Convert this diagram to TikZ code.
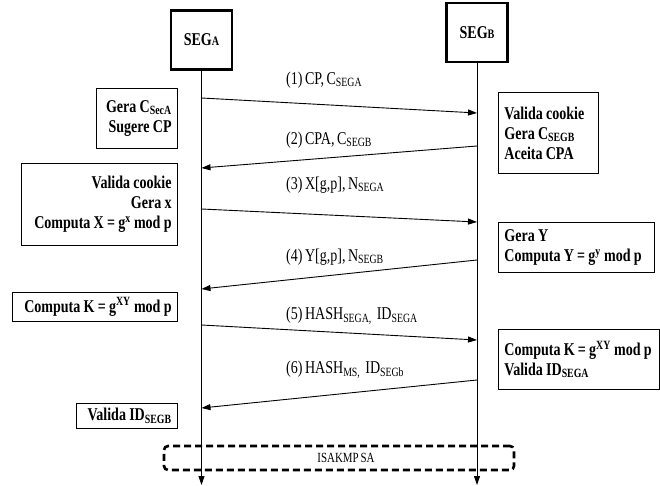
\documentclass[tikz,border=0pt]{standalone}
\usepackage{fontspec}
\setmainfont{Liberation Serif}[FakeStretch=0.78,WordSpace=0.7,
  BoldFeatures={FakeStretch=0.78,WordSpace=0.6}]
\usetikzlibrary{arrows.meta}

\begin{document}
\begin{tikzpicture}[x=1pt,y=-1pt,>={Triangle[length=9pt,width=6pt]},
  seg/.style={draw,line width=2.2pt,minimum width=61pt,minimum height=59pt,
    font=\fontsize{18}{20}\selectfont\bfseries},
  acao/.style={draw,line width=0.8pt,inner xsep=6pt,inner ysep=3pt,
    font=\fontsize{18}{20}\selectfont\bfseries,
    execute at begin node={\spaceskip=0.18em\relax}},
  msg/.style={anchor=west,inner sep=0pt,font=\fontsize{18}{20}\selectfont},
  seta/.style={->,line width=0.9pt}]
\useasboundingbox (0,0) rectangle (660,486);
\node[seg] (segA) at (201.5,40) {SEG{\fontsize{13}{13}\selectfont A}};
\node[seg] (segB) at (477,32.5) {SEG{\fontsize{13}{13}\selectfont B}};
%
\coordinate (fimA) at (201.5,485);
\coordinate (fimB) at (477,485);
\foreach \n/\ya/\yb in {1/98/113,2/168/146,3/209/222,4/289/260,5/325/340,6/408/380}
{
  \coordinate (a\n) at (201.5,\ya);
  \coordinate (b\n) at (477,\yb);
}
%
\node[acao,anchor=north east,text width=69pt,align=right,minimum height=60pt] (geraA) at (178,88)
  {Gera C\textsubscript{SecA}\\Sugere CP};
\node[acao,anchor=north east,text width=144pt,align=right,minimum height=82pt] (computaX) at (178,163)
  {Valida cookie\\Gera x\\Computa X = g\textsuperscript{x} mod p};
\node[acao,anchor=north east,text width=153pt,align=right,minimum height=29pt] (computaKA) at (178,292)
  {Computa K = g\textsuperscript{XY} mod p};
\node[acao,anchor=north east,text width=89pt,align=right,minimum height=25pt] (validaB) at (178,403)
  {Valida ID\textsubscript{SEGB}};
%
\node[acao,anchor=north west,text width=88pt,align=left,minimum height=81pt] (validaCookie) at (498,92)
  {Valida cookie\\Gera C\textsubscript{SEGB}\\Aceita CPA};
\node[acao,anchor=north west,text width=144pt,align=left,minimum height=50pt] (computaY) at (498,222)
  {Gera Y\\Computa Y = g\textsuperscript{y} mod p};
\node[acao,anchor=north west,text width=149pt,align=left,minimum height=60pt] (computaKB) at (498,329)
  {Computa K = g\textsuperscript{XY} mod p\\Valida ID\textsubscript{SEGA}};
%
\node[msg] (m1) at (286,80) {(1) CP, C\textsubscript{SEGA}};
\node[msg] (m2) at (286,140) {(2) CPA, C\textsubscript{SEGB}};
\node[msg] (m3) at (286,185) {(3) X[g,p], N\textsubscript{SEGA}};
\node[msg] (m4) at (286,257) {(4) Y[g,p], N\textsubscript{SEGB}};
\node[msg] (m5) at (286,316) {(5) HASH\textsubscript{SEGA,}\ \ ID\textsubscript{SEGA}};
\node[msg] (m6) at (286,370) {(6) HASH\textsubscript{MS,}\ \ ID\textsubscript{SEGb}};
%
\node[draw,line width=2.6pt,dash pattern=on 7pt off 4pt,rounded corners=4pt,
  minimum width=350pt,minimum height=24pt,font=\fontsize{14}{16}\selectfont] (isakmp) at (339,458)
  {\hspace*{14pt}ISAKMP SA};
%
\draw[seta] (segA.south) -- (fimA);
\draw[seta] (segB.south) -- (fimB);
\path (a1) edge[seta] (b1)
      (b2) edge[seta] (a2)
      (a3) edge[seta] (b3)
      (b4) edge[seta] (a4)
      (a5) edge[seta] (b5)
      (b6) edge[seta] (a6)
;
\end{tikzpicture}
\end{document}
